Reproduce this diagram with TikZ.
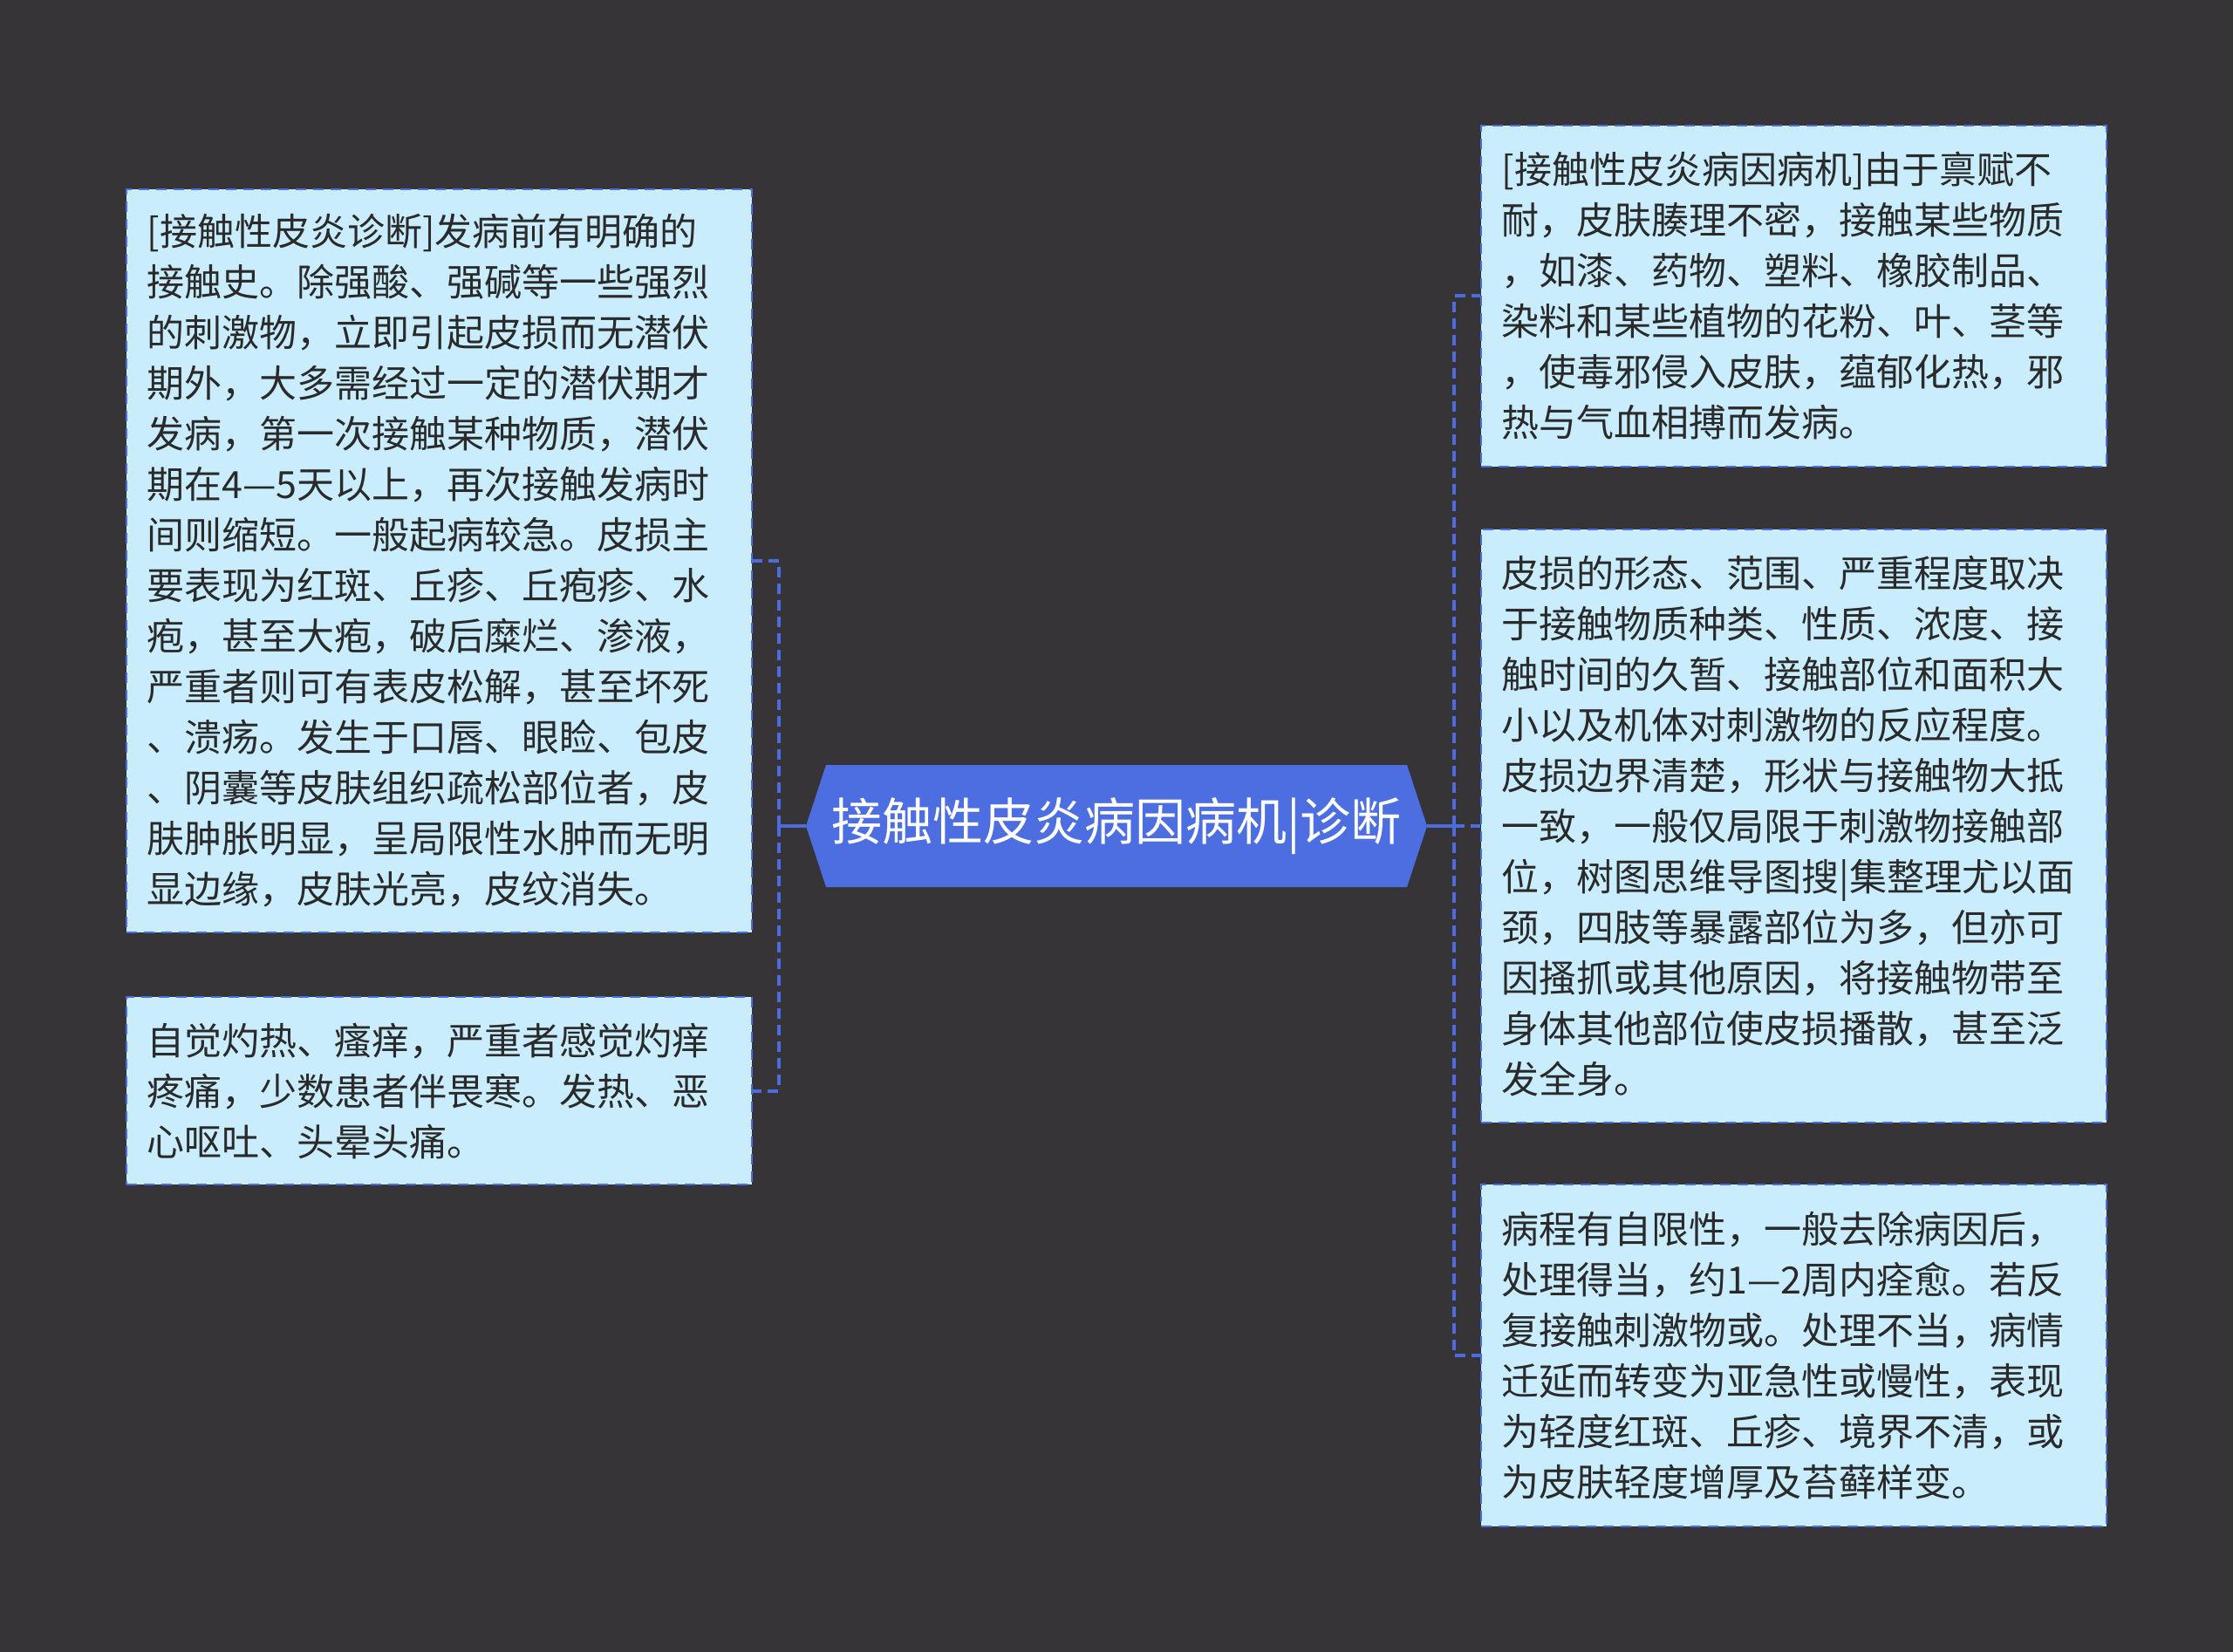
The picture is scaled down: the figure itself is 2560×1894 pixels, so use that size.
\documentclass[tikz,border=0pt]{standalone}
\usepackage{fontspec}
\setmainfont{Noto Sans CJK SC}
\usetikzlibrary{calc}
\definecolor{bgc}{RGB}{54,52,54}
\definecolor{leafbg}{RGB}{201,237,252}
\definecolor{lineblue}{RGB}{74,110,224}
\definecolor{hubblue}{RGB}{76,110,224}
\definecolor{txt}{RGB}{42,42,42}
\tikzset{
  leaf/.style={draw=lineblue, line width=1pt, dash pattern=on 6pt off 4pt,
    fill=leafbg, text=txt, align=left, text width=335pt, inner xsep=11.75pt,
    inner ysep=0pt, font=\fontsize{21.5pt}{29pt}\selectfont, minimum width=358.5pt},
  link/.style={draw=lineblue, line width=2pt, dash pattern=on 6pt off 3.5pt},
  stub/.style={draw=lineblue, line width=2pt},
  hub/.style={text=white, font=\fontsize{29pt}{34pt}\selectfont, minimum width=356pt,
    minimum height=70pt, inner sep=0pt}
}
\begin{document}
\begin{tikzpicture}[x=0.5pt,y=-0.5pt]
\fill[bgc] (0,0) rectangle (2560,1894);
\useasboundingbox (0,0) rectangle (2560,1894);

% central hexagon
\fill[hubblue] (924,947) -- (947,877) -- (1613,877) -- (1636,947) -- (1613,1017) -- (947,1017) -- cycle;
\node[hub] (c) at (1280,947) {接触性皮炎病因病机|诊断};

% left boxes
\node[leaf, minimum height=426pt] (l1) at (503.5,643) {[接触性皮炎诊断]发病前有明确的\\
接触史。除强酸、强碱等一些强烈\\
的刺激物，立即引起皮损而无潜伏\\
期外，大多需经过一定的潜伏期才\\
发病，第一次接触某种物质，潜伏\\
期在4—5天以上，再次接触发病时\\
间则缩短。一般起病较急。皮损主\\
要表现为红斑、丘疹、丘疱疹、水\\
疱，甚至大疱，破后糜烂、渗液，\\
严重者则可有表皮松解，甚至坏死\\
、溃疡。发生于口唇、眼睑、包皮\\
、阴囊等皮肤组织疏松部位者，皮\\
肤肿胀明显，呈局限性水肿而无明\\
显边缘，皮肤光亮，皮纹消失。};

\node[leaf, minimum height=107.5pt] (l2) at (503.5,1250.5) {自觉灼热、瘙痒，严重者感觉灼痒\\
疼痛，少数患者伴畏寒。发热、恶\\
心呕吐、头晕头痛。};

% right boxes
\node[leaf, minimum height=195.5pt] (r1) at (2056.5,339.5) {[接触性皮炎病因病机]由于禀赋不\\
耐，皮肤腠理不密，接触某些物质\\
，如漆、药物、塑料、橡胶制品、\\
染料和某些植物的花粉、叶、茎等\\
，使毒邪侵入皮肤，蕴郁化热，邪\\
热与气血相搏而发病。};

\node[leaf, minimum height=340pt] (r2) at (2056.5,947) {皮损的形态、范围、严重程度取决\\
于接触物质种类、性质、浓度、接\\
触时间的久暂、接触部位和面积大\\
小以及机体对刺激物的反应程度。\\
皮损边界清楚，形状与接触物大抵\\
一致，一般仅局限于刺激物接触部\\
位，树图思维导图搜|集整理尤以面\\
颈，四肢等暴露部位为多，但亦可\\
因搔抓或其他原因，将接触物带至\\
身体其他部位使皮损播散，甚至泛\\
发全身。};

\node[leaf, minimum height=196pt] (r3) at (2056.5,1554) {病程有自限性，一般去除病因后，\\
处理得当，约1—2周内痊愈。若反\\
复接触刺激物或。处理不当，病情\\
迁延而转变为亚急性或慢性，表现\\
为轻度红斑、丘疹、境界不清，或\\
为皮肤轻度增厚及苔藓样变。};

% connectors
\coordinate (lj) at ($(c.west)+(-31,0)$);
\coordinate (rj) at ($(c.east)+(31,0)$);
\draw[stub] (c.west) -- (lj);
\draw[stub] (c.east) -- (rj);
\draw[link] (lj) |- (l1.east);
\draw[link] (lj) |- (l2.east);
\draw[link] (rj) |- (r1.west);
\draw[link] (rj) -- (r2.west);
\draw[link] (rj) |- (r3.west);
\end{tikzpicture}
\end{document}
